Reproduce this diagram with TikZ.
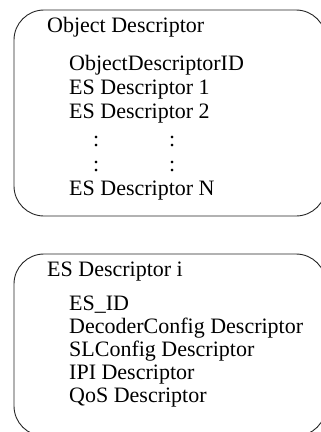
\documentclass[tikz,border=0pt]{standalone}
\usepackage{fontspec}
\setmainfont{Liberation Serif}
\begin{document}
\begin{tikzpicture}[x=1pt,y=-1pt,
  txt/.style={anchor=base west, inner sep=0pt, font=\fontsize{22}{26}\selectfont},
  frame/.style={draw=black!85, line width=0.9pt, rounded corners=30pt}]
\useasboundingbox (0,0) rectangle (321,432);
\begin{scope}
  \clip (0,0) rectangle (321,432);
  \draw[frame] (14,10) rectangle (326,216);
  \draw[frame] (14,254) rectangle (326,436);
\end{scope}
% box 1
\node[txt] (od)  at (47,32)  {Object Descriptor};
\node[txt] (odid) at (69,70) {ObjectDescriptorID};
\node[txt] (es1) at (69,94)  {ES Descriptor 1};
\node[txt] (es2) at (69,118) {ES Descriptor 2};
\node[txt] (c1a) at (93,146) {:};
\node[txt] (c1b) at (169,146) {:};
\node[txt] (c2a) at (93,171) {:};
\node[txt] (c2b) at (169,171) {:};
\node[txt] (esn) at (69,195) {ES Descriptor N};
% box 2
\node[txt] (esi) at (47,276) {ES Descriptor i};
\node[txt] (esid) at (69,310) {ES\_ID};
\node[txt] (dec) at (69,333) {DecoderConfig Descriptor};
\node[txt] (sl)  at (69,356) {SLConfig Descriptor};
\node[txt] (ipi) at (69,379) {IPI Descriptor};
\node[txt] (qos) at (69,402) {QoS Descriptor};
\end{tikzpicture}
\end{document}
